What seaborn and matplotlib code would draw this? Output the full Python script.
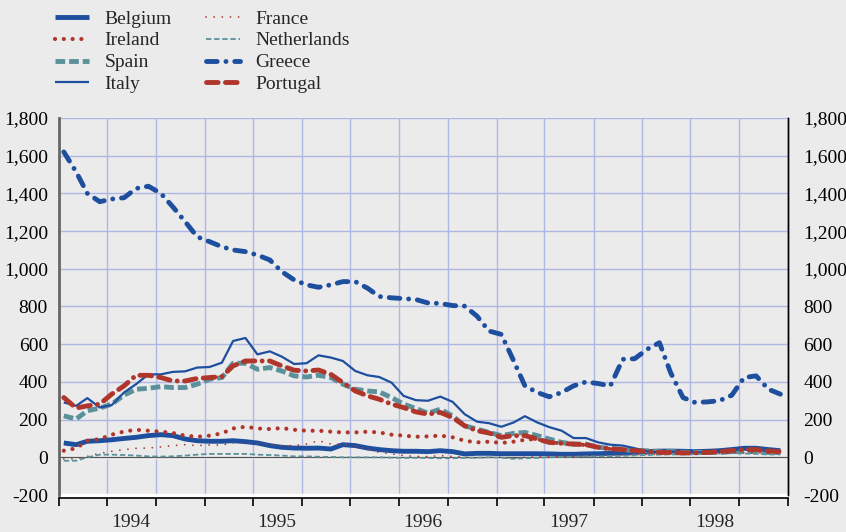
import numpy as np
import pandas as pd
import matplotlib
matplotlib.use("Agg")
import matplotlib.pyplot as plt
import matplotlib.dates as mdates
import matplotlib.ticker as mticker
import seaborn as sns

# ===== DATA (monthly, Jan 1994 - Dec 1998) =====
months = pd.date_range("1994-01-01", periods=60, freq="MS") + pd.Timedelta(days=12)
years = ["1994", "1995", "1996", "1997", "1998"]

belgium = [76, 67, 85, 88, 93, 100, 106, 115, 120, 115, 97, 88, 85, 85, 88, 83, 76, 62, 53, 49,
           48, 49, 44, 67, 62, 49, 41, 35, 32, 32, 30, 35, 30, 18, 21, 21, 19, 19, 19, 19,
           18, 16, 16, 18, 19, 21, 23, 26, 30, 33, 33, 32, 30, 32, 35, 41, 48, 48, 41, 35]
ireland = [35, 48, 88, 97, 120, 137, 146, 141, 136, 129, 115, 109, 115, 127, 153, 162, 153, 150, 155, 146,
           141, 141, 136, 132, 132, 136, 132, 120, 115, 109, 111, 115, 106, 88, 79, 83, 76, 83, 93, 97,
           80, 74, 70, 65, 53, 44, 41, 33, 30, 26, 26, 26, 26, 30, 33, 37, 41, 37, 32, 26]
spain = [220, 203, 247, 261, 282, 330, 361, 366, 375, 370, 370, 388, 414, 423, 499, 499, 467, 476, 458, 432,
         426, 435, 423, 388, 361, 352, 347, 317, 282, 259, 234, 255, 220, 167, 150, 132, 115, 127, 132, 115,
         97, 79, 70, 70, 53, 48, 41, 35, 35, 30, 32, 26, 26, 26, 26, 30, 32, 30, 26, 26]
italy = [291, 273, 314, 264, 277, 344, 388, 440, 440, 453, 456, 476, 479, 502, 617, 633, 546, 562, 534, 495,
         499, 541, 529, 511, 458, 435, 426, 396, 326, 303, 300, 322, 294, 229, 189, 181, 162, 185, 218, 185,
         160, 141, 102, 102, 79, 67, 62, 48, 32, 26, 30, 28, 25, 28, 32, 38, 42, 40, 35, 30]
france = [-9, -9, 5, 21, 32, 41, 48, 49, 55, 62, 67, 62, 65, 65, 76, 76, 74, 70, 62, 62,
          70, 88, 70, 70, 58, 44, 26, 18, 9, 5, 4, 9, 5, 0, -4, 0, 0, -5, 0, 2,
          4, 5, 6, 8, 10, 12, 12, 14, 15, 15, 16, 16, 17, 18, 20, 22, 24, 24, 22, 20]
netherlands = [-18, -18, 0, 14, 14, 12, 9, 5, 4, 5, 9, 14, 18, 18, 18, 18, 14, 12, 9, 5,
               5, 3, 2, 0, 0, 0, 0, -2, -3, -3, -4, -5, -5, -3, -2, 0, -2, -8, -5, -3,
               0, 2, 3, 5, 5, 6, 8, 10, 12, 14, 15, 15, 16, 18, 20, 22, 20, 18, 15, 15]
greece = [1620, 1514, 1400, 1356, 1370, 1377, 1426, 1438, 1400, 1329, 1250, 1170, 1144, 1117, 1100, 1091, 1073, 1047, 985, 941,
          915, 902, 915, 932, 932, 897, 853, 846, 842, 837, 819, 816, 805, 802, 749, 670, 652, 511, 379, 344,
          321, 344, 379, 400, 391, 379, 520, 523, 573, 608, 449, 317, 291, 294, 300, 329, 423, 432, 361, 335]
portugal = [317, 261, 273, 282, 335, 379, 435, 435, 423, 405, 405, 418, 423, 428, 485, 511, 511, 511, 485, 462,
            458, 463, 440, 396, 352, 326, 308, 282, 264, 241, 229, 238, 211, 167, 141, 129, 106, 115, 115, 97,
            79, 74, 70, 67, 53, 44, 41, 35, 32, 26, 26, 23, 23, 26, 30, 35, 41, 41, 33, 30]

# ===== STYLE =====
BLUE = "#1E4F9F"
RED = "#B0352B"
TEAL = "#5B919B"
BG = "#EBEBEB"
GRID = "#AEB6E2"

sns.set_theme(style="white")
plt.rcParams["font.family"] = ["Liberation Serif", "DejaVu Serif"]
plt.rcParams["axes.unicode_minus"] = False

series = [
    ("Belgium", belgium, BLUE, 3.5, "-", "butt"),
    ("Ireland", ireland, RED, 3.0, (0, (0.01, 2.1)), "round"),
    ("Spain", spain, TEAL, 3.5, (0, (2.0, 0.8)), "butt"),
    ("Italy", italy, BLUE, 1.6, "-", "butt"),
    ("France", france, RED, 1.3, (0, (0.01, 4.5)), "round"),
    ("Netherlands", netherlands, TEAL, 1.3, (0, (3, 1.5)), "butt"),
    ("Greece", greece, BLUE, 3.5, (0, (2.2, 1.8, 0.01, 1.8)), "round"),
    ("Portugal", portugal, RED, 3.5, (0, (2.4, 1.5, 2.4, 1.5, 0.01, 1.5)), "round"),
]

# ===== PLOT =====
fig = plt.figure(figsize=(8.46, 5.32), dpi=100, facecolor=BG)
ax = fig.add_axes([59 / 846, 1 - 495 / 532, 729 / 846, 377 / 532])
ax.set_facecolor(BG)

for name, vals, col, lw, ls, cap in series:
    sns.lineplot(x=months, y=vals, ax=ax, color=col, linewidth=lw, linestyle=ls,
                 dash_capstyle=cap, solid_capstyle="butt", label=name, zorder=3)

ax.axhline(0, color="white", lw=2.5, zorder=1.5)
ax.axhline(0, color="#555555", lw=1.0, zorder=1.6)
ax.axhline(-200, color="white", lw=2.5, zorder=1.5, clip_on=False)

ax.set_xlim(pd.Timestamp("1994-01-01"), pd.Timestamp("1999-01-01"))
ax.set_ylim(-200, 1800)

ax.xaxis.set_major_locator(mdates.MonthLocator(bymonth=[1, 5, 9]))
ax.xaxis.set_major_formatter(mticker.NullFormatter())
ax.xaxis.set_minor_locator(mticker.FixedLocator(
    [mdates.date2num(pd.Timestamp(y + "-07-01")) for y in years]))
ax.xaxis.set_minor_formatter(mticker.FixedFormatter(years))
ax.tick_params(axis="x", which="major", direction="out", length=6, width=1.2,
               color="black", bottom=True)
ax.tick_params(axis="x", which="minor", length=0, pad=12, labelsize=14)

ax.yaxis.set_major_locator(mticker.MultipleLocator(200))
ax.yaxis.set_major_formatter(mticker.StrMethodFormatter("{x:,.0f}"))
ax.tick_params(axis="y", length=0, pad=8, labelsize=14, labelcolor="black")

ax.grid(True, which="major", color=GRID, lw=1.0, zorder=0)
ax.set_axisbelow(True)
ax.set_xlabel("")
ax.set_ylabel("")

ax.spines["top"].set_visible(False)
ax.spines["left"].set_color("#666666")
ax.spines["left"].set_linewidth(2)
ax.spines["right"].set_color("black")
ax.spines["right"].set_linewidth(1)
ax.spines["bottom"].set_color("black")
ax.spines["bottom"].set_linewidth(1.2)
ax.spines["bottom"].set_position(("outward", 2))

# right-hand axis mirrors the left one
ax2 = ax.twinx()
ax2.set_ylim(ax.get_ylim())
ax2.yaxis.set_major_locator(mticker.MultipleLocator(200))
ax2.yaxis.set_major_formatter(mticker.StrMethodFormatter("{x:,.0f}"))
ax2.tick_params(axis="y", length=0, pad=11, labelsize=14, labelcolor="black")
ax2.grid(False)
for s in ["top", "left", "bottom"]:
    ax2.spines[s].set_visible(False)
ax2.spines["right"].set_color("black")
ax2.spines["right"].set_linewidth(1)

# ===== LEGEND =====
handles, labels = ax.get_legend_handles_labels()
ax.get_legend().remove()
fig.legend(handles, labels, ncol=2, loc="upper left",
           bbox_to_anchor=(55 / 846, 1 - 10 / 532), frameon=False, fontsize=14,
           handlelength=1.75, handletextpad=0.8, columnspacing=1.75,
           labelspacing=0.22, borderpad=0, borderaxespad=0)

fig.savefig("out.png", dpi=100, facecolor=BG)
